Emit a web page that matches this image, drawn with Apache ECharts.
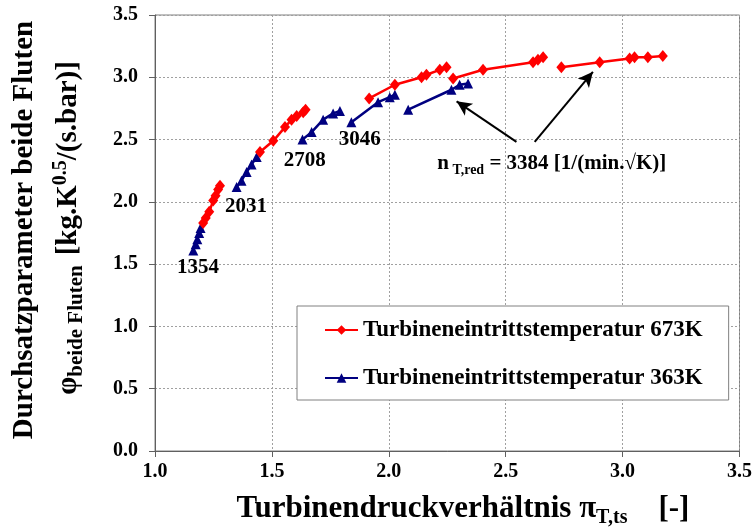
<!DOCTYPE html>
<html>
<head>
<meta charset="utf-8">
<script src="https://cdn.jsdelivr.net/npm/echarts@6/dist/echarts.min.js"></script>
<style>
  html, body { margin: 0; padding: 0; background: #fff; }
  #chart { width: 755px; height: 531px; }
</style>
</head>
<body>
<div id="chart"></div>
<script>
// Messpunkte [Druckverhältnis, Durchsatzparameter], je Drehzahllinie
const red673_1354 = [[1.206, 1.83], [1.217, 1.87], [1.232, 1.92], [1.249, 2.01], [1.259, 2.05], [1.270, 2.10], [1.278, 2.13]];
const red673_2031 = [[1.449, 2.40], [1.506, 2.49], [1.556, 2.60], [1.584, 2.66], [1.606, 2.69], [1.634, 2.72], [1.644, 2.74]];
const red673_3046 = [[1.916, 2.83], [2.026, 2.94], [2.140, 3.00], [2.161, 3.02], [2.218, 3.06], [2.247, 3.08]];
const red673_3384 = [[2.275, 2.99], [2.403, 3.06], [2.617, 3.12], [2.638, 3.14], [2.660, 3.16]];
const red673_high = [[2.738, 3.08], [2.902, 3.12], [3.030, 3.15], [3.051, 3.16], [3.108, 3.16], [3.172, 3.17]];

const blue363_1354 = [[1.164, 1.61], [1.174, 1.66], [1.181, 1.70], [1.189, 1.75], [1.195, 1.79]];
const blue363_2031 = [[1.349, 2.12], [1.370, 2.17], [1.392, 2.24], [1.413, 2.30], [1.435, 2.36]];
const blue363_2708 = [[1.631, 2.50], [1.670, 2.56], [1.719, 2.66], [1.762, 2.71], [1.791, 2.73]];
const blue363_3046 = [[1.840, 2.64], [1.954, 2.80], [2.004, 2.84], [2.026, 2.86]];
const blue363_3384 = [[2.083, 2.74], [2.268, 2.90], [2.303, 2.94], [2.339, 2.95]];

// Beschriftungen der Drehzahllinien [x, y, text]
const speedLabels = [[1.184, 1.47, '1354'], [1.389, 1.96, '2031'], [1.641, 2.335, '2708'], [1.876, 2.50, '3046']];
// Pfeile [von, nach]
const arrows = [[[2.546, 2.482], [2.290, 2.807]], [[2.624, 2.482], [2.873, 3.044]]];

const NAME_RED = 'Turbineneintrittstemperatur 673K';
const NAME_BLUE = 'Turbineneintrittstemperatur 363K';
const SERIF = '"Liberation Serif", "Times New Roman", serif';

const redSegments = [red673_1354, red673_2031, red673_3046, red673_3384, red673_high];
const blueSegments = [blue363_1354, blue363_2031, blue363_2708, blue363_3046, blue363_3384];

function makeSeries(name, seg, color, symbol, size) {
    return {
        name: name,
        type: 'line',
        data: seg,
        symbol: symbol,
        symbolSize: size,
        lineStyle: { color: color, width: 2.5 },
        itemStyle: { color: color },
        emphasis: { disabled: true },
        z: 3
    };
}

const series = [];
blueSegments.forEach(s => series.push(makeSeries(NAME_BLUE, s, '#000080', 'triangle', 10)));
redSegments.forEach(s => series.push(makeSeries(NAME_RED, s, '#ff0000', 'diamond', [10, 12])));
series.push({
    name: 'arrows',
    type: 'line',
    data: [],
    markLine: {
        silent: true,
        symbol: ['none', 'arrow'],
        symbolSize: [11, 15],
        label: { show: false },
        lineStyle: { color: '#000', width: 2, type: 'solid' },
        data: arrows.map(a => [{ coord: a[0] }, { coord: a[1] }])
    }
});

const chart = echarts.init(document.getElementById('chart'));
chart.setOption({
    animation: false,
    textStyle: { fontFamily: SERIF },
    grid: { left: 155, right: 15, top: 15, bottom: 80, show: true, borderColor: '#808080', borderWidth: 1 },
    legend: {
        data: [NAME_RED, NAME_BLUE],
        orient: 'vertical',
        left: 297,
        top: 306,
        padding: [12, 26, 10, 27],
        itemGap: 24,
        itemWidth: 33,
        itemHeight: 12,
        backgroundColor: '#fff',
        borderColor: '#808080',
        borderWidth: 1,
        borderRadius: 0,
        textStyle: { fontFamily: SERIF, fontWeight: 'bold', fontSize: 23, color: '#000', lineHeight: 24 }
    },
    xAxis: {
        type: 'value',
        min: 1, max: 3.5, interval: 0.5,
        axisLine: { lineStyle: { color: '#606060' } },
        axisTick: { show: true, length: 6, lineStyle: { color: '#606060' } },
        splitLine: { show: true, lineStyle: { color: '#a0a0a0', type: [2, 2] } },
        axisLabel: { margin: 11, fontFamily: SERIF, fontWeight: 'bold', fontSize: 20, color: '#000',
                     formatter: v => v.toFixed(1) }
    },
    yAxis: {
        type: 'value',
        min: 0, max: 3.5, interval: 0.5,
        axisLine: { show: true, lineStyle: { color: '#606060' } },
        axisTick: { show: true, length: 6, lineStyle: { color: '#606060' } },
        splitLine: { show: true, lineStyle: { color: '#a0a0a0', type: [2, 2] } },
        axisLabel: { margin: 17, fontFamily: SERIF, fontWeight: 'bold', fontSize: 20, color: '#000',
                     formatter: v => v.toFixed(1) }
    },
    series: series
});

// Texte: Drehzahlen, Achsentitel
const graphics = speedLabels.map(l => {
    const p = chart.convertToPixel({ gridIndex: 0 }, [l[0], l[1]]);
    return {
        type: 'text', x: p[0], y: p[1], z: 10,
        style: { text: l[2], textAlign: 'center', textVerticalAlign: 'middle',
                 font: 'bold 21px ' + SERIF, fill: '#000' }
    };
});

const nPos = chart.convertToPixel({ gridIndex: 0 }, [2.697, 2.31]);
graphics.push({
    type: 'text', x: nPos[0], y: nPos[1], z: 10,
    style: {
        text: '{m|n}{s| T,red}{m| = 3384 [1/(min.√K)]}',
        textAlign: 'center', textVerticalAlign: 'middle',
        rich: {
            m: { fontFamily: SERIF, fontWeight: 'bold', fontSize: 21, lineHeight: 28, fill: '#000' },
            s: { fontFamily: SERIF, fontWeight: 'bold', fontSize: 14, lineHeight: 14, verticalAlign: 'bottom', fill: '#000' }
        }
    }
});

graphics.push({
    type: 'text', x: 463, y: 509, z: 10,
    style: {
        text: '{m|Turbinendruckverhältnis π}{s|T,ts}{m|    [-]}',
        textAlign: 'center', textVerticalAlign: 'middle',
        rich: {
            m: { fontFamily: SERIF, fontWeight: 'bold', fontSize: 31, lineHeight: 38, fill: '#000' },
            s: { fontFamily: SERIF, fontWeight: 'bold', fontSize: 20, lineHeight: 20, verticalAlign: 'bottom', fill: '#000' }
        }
    }
});

graphics.push({
    type: 'text', x: 25, y: 230, rotation: Math.PI / 2, z: 10,
    style: {
        text: 'Durchsatzparameter beide Fluten',
        textAlign: 'center', textVerticalAlign: 'middle',
        font: 'bold 29px ' + SERIF, fill: '#000'
    }
});

graphics.push({
    type: 'text', x: 69, y: 228, rotation: Math.PI / 2, z: 10,
    style: {
        text: '{m|φ}{s|beide Fluten}   {m|[kg.K}{p|0.5}{m|/(s.bar)]}',
        textAlign: 'center', textVerticalAlign: 'middle',
        rich: {
            m: { fontFamily: SERIF, fontWeight: 'bold', fontSize: 29, lineHeight: 36, fill: '#000' },
            s: { fontFamily: SERIF, fontWeight: 'bold', fontSize: 21, lineHeight: 21, verticalAlign: 'bottom', fill: '#000' },
            p: { fontFamily: SERIF, fontWeight: 'bold', fontSize: 20, lineHeight: 20, verticalAlign: 'top', fill: '#000' }
        }
    }
});

chart.setOption({ graphic: graphics });
window.addEventListener('resize', () => chart.resize());
</script>
</body>
</html>
